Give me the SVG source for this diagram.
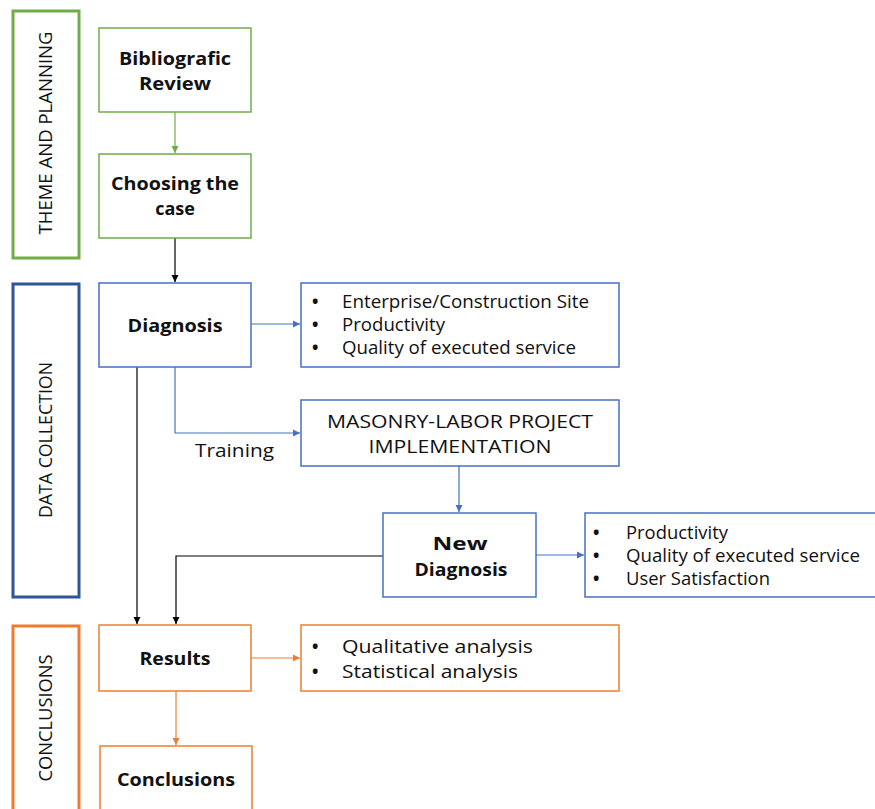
<svg xmlns="http://www.w3.org/2000/svg" width="875" height="809" viewBox="0 0 875 809">
<style>
text{font-family:"Open Sans","Liberation Sans",sans-serif;fill:#111}
.b{font-weight:bold;font-size:18px;text-anchor:middle}
.r{font-size:18px}
.d{font-size:17px;font-weight:bold}
.side{font-size:18px;text-anchor:middle}
.g{fill:#fff;stroke:#70AD47;stroke-width:1.5}
.bl{fill:#fff;stroke:#4472C4;stroke-width:1.5}
.o{fill:#fff;stroke:#ED7D31;stroke-width:1.5}
.cg{stroke:#70AD47;stroke-width:1.2;fill:none}
.cb{stroke:#4472C4;stroke-width:1.2;fill:none}
.ck{stroke:#000;stroke-width:1.2;fill:none}
.co{stroke:#ED7D31;stroke-width:1.2;fill:none}
</style>
<defs>
<marker id="ag" markerWidth="8" markerHeight="8" refX="7" refY="4" orient="auto" markerUnits="userSpaceOnUse"><path d="M0,0.5L7,4L0,7.5z" fill="#70AD47"/></marker>
<marker id="ab" markerWidth="8" markerHeight="8" refX="7" refY="4" orient="auto" markerUnits="userSpaceOnUse"><path d="M0,0.5L7,4L0,7.5z" fill="#4472C4"/></marker>
<marker id="ak" markerWidth="8" markerHeight="8" refX="7" refY="4" orient="auto" markerUnits="userSpaceOnUse"><path d="M0,0.5L7,4L0,7.5z" fill="#000"/></marker>
<marker id="ao" markerWidth="8" markerHeight="8" refX="7" refY="4" orient="auto" markerUnits="userSpaceOnUse"><path d="M0,0.5L7,4L0,7.5z" fill="#ED7D31"/></marker>
</defs>
<rect width="875" height="809" fill="#fff"/>

<g id="phase-theme">
<rect x="13" y="11" width="66" height="247" fill="#fff" stroke="#70AD47" stroke-width="3"/>
<text class="side" transform="translate(52,133) rotate(-90)" textLength="203" lengthAdjust="spacingAndGlyphs">THEME AND PLANNING</text>
</g>
<g id="phase-data">
<rect x="13" y="284" width="66" height="313" fill="#fff" stroke="#2F5597" stroke-width="3"/>
<text class="side" transform="translate(52,440) rotate(-90)" textLength="156" lengthAdjust="spacingAndGlyphs">DATA COLLECTION</text>
</g>
<g id="phase-conclusions">
<rect x="13" y="626" width="66" height="190" fill="#fff" stroke="#ED7D31" stroke-width="3"/>
<text class="side" transform="translate(52,718) rotate(-90)" textLength="127" lengthAdjust="spacingAndGlyphs">CONCLUSIONS</text>
</g>

<g id="connectors">
<line class="cg" x1="175" y1="112" x2="175" y2="153" marker-end="url(#ag)"/>
<line class="ck" x1="175" y1="238" x2="175" y2="282" marker-end="url(#ak)"/>
<line class="cb" x1="251" y1="324" x2="300" y2="324" marker-end="url(#ab)"/>
<polyline class="cb" points="175,367 175,433 300,433" marker-end="url(#ab)"/>
<line class="cb" x1="459" y1="466" x2="459" y2="512" marker-end="url(#ab)"/>
<line class="cb" x1="536" y1="555" x2="584" y2="555" marker-end="url(#ab)"/>
<line class="ck" x1="137" y1="367" x2="137" y2="624" marker-end="url(#ak)"/>
<polyline class="ck" points="383,556 176,556 176,624" marker-end="url(#ak)"/>
<line class="co" x1="251" y1="658" x2="300" y2="658" marker-end="url(#ao)"/>
<line class="co" x1="176" y1="691" x2="176" y2="745" marker-end="url(#ao)"/>
</g>

<g id="bibliografic-review">
<rect class="g" x="99" y="28" width="152" height="84"/>
<text class="b" x="175" y="65" textLength="112" lengthAdjust="spacingAndGlyphs">Bibliografic</text>
<text class="b" x="175" y="90" textLength="72" lengthAdjust="spacingAndGlyphs">Review</text>
</g>
<g id="choosing-case">
<rect class="g" x="99" y="154" width="152" height="84"/>
<text class="b" x="175" y="190" textLength="128" lengthAdjust="spacingAndGlyphs">Choosing the</text>
<text class="b" x="175" y="215">case</text>
</g>
<g id="diagnosis">
<rect class="bl" x="99" y="283" width="152" height="84"/>
<text class="b" x="175" y="332" textLength="95" lengthAdjust="spacingAndGlyphs">Diagnosis</text>
</g>
<g id="diagnosis-items">
<rect class="bl" x="301" y="283" width="318" height="84"/>
<text class="d" x="312" y="308">•</text>
<text class="r" x="342" y="308" textLength="247" lengthAdjust="spacingAndGlyphs">Enterprise/Construction Site</text>
<text class="d" x="312" y="331">•</text>
<text class="r" x="342" y="331" textLength="103" lengthAdjust="spacingAndGlyphs">Productivity</text>
<text class="d" x="312" y="354">•</text>
<text class="r" x="342" y="354" textLength="234" lengthAdjust="spacingAndGlyphs">Quality of executed service</text>
</g>
<g id="training-label">
<text class="r" x="195" y="457" textLength="79" lengthAdjust="spacingAndGlyphs">Training</text>
</g>
<g id="masonry">
<rect class="bl" x="301" y="400" width="318" height="66"/>
<text class="r" x="460" y="428" text-anchor="middle" textLength="266" lengthAdjust="spacingAndGlyphs">MASONRY-LABOR PROJECT</text>
<text class="r" x="460" y="453" text-anchor="middle" textLength="183" lengthAdjust="spacingAndGlyphs">IMPLEMENTATION</text>
</g>
<g id="new-diagnosis">
<rect class="bl" x="383" y="513" width="153" height="84"/>
<text class="b" x="460" y="550" textLength="55" lengthAdjust="spacingAndGlyphs">New</text>
<text class="b" x="461" y="576" textLength="93" lengthAdjust="spacingAndGlyphs">Diagnosis</text>
</g>
<g id="new-diagnosis-items">
<rect class="bl" x="585" y="513" width="300" height="84"/>
<text class="d" x="593" y="539">•</text>
<text class="r" x="626" y="539" textLength="102" lengthAdjust="spacingAndGlyphs">Productivity</text>
<text class="d" x="593" y="562">•</text>
<text class="r" x="626" y="562" textLength="234" lengthAdjust="spacingAndGlyphs">Quality of executed service</text>
<text class="d" x="593" y="585">•</text>
<text class="r" x="626" y="585" textLength="144" lengthAdjust="spacingAndGlyphs">User Satisfaction</text>
</g>
<g id="results">
<rect class="o" x="99" y="625" width="152" height="66"/>
<text class="b" x="175" y="665" textLength="71" lengthAdjust="spacingAndGlyphs">Results</text>
</g>
<g id="results-items">
<rect class="o" x="301" y="625" width="318" height="66"/>
<text class="d" x="312" y="653">•</text>
<text class="r" x="342" y="653" style="font-size:19px" textLength="191" lengthAdjust="spacingAndGlyphs">Qualitative analysis</text>
<text class="d" x="312" y="678">•</text>
<text class="r" x="342" y="678" style="font-size:19px" textLength="176" lengthAdjust="spacingAndGlyphs">Statistical analysis</text>
</g>
<g id="conclusions">
<rect class="o" x="100" y="746" width="152" height="80"/>
<text class="b" x="176" y="786" textLength="118" lengthAdjust="spacingAndGlyphs">Conclusions</text>
</g>
</svg>
